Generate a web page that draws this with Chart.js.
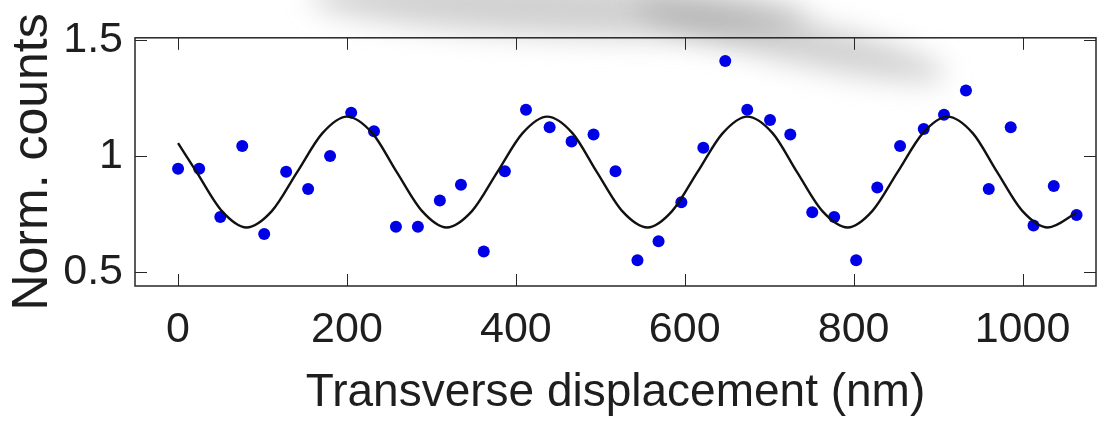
<!DOCTYPE html>
<html>
<head>
<meta charset="utf-8">
<script src="https://cdn.jsdelivr.net/npm/chart.js@4.4.1/dist/chart.umd.min.js"></script>
<style>
  html, body { margin: 0; padding: 0; background: #fff; }
  canvas { display: block; }
</style>
</head>
<body>
<canvas id="fringes" width="1102" height="421"></canvas>
<script>
// measured points
const dataX = [0, 25, 50, 76, 102, 128, 154, 180, 205, 232, 258, 284, 310, 335, 362, 387, 412, 440, 466, 492, 518,
               544, 569, 596, 622, 648, 674, 701, 725, 751, 777, 803, 828, 855, 883, 907, 933, 960, 986, 1013, 1037, 1064];
const dataY = [0.945, 0.945, 0.737, 1.042, 0.664, 0.932, 0.857, 0.999, 1.186, 1.106, 0.695, 0.695, 0.808, 0.876, 0.588,
               0.934, 1.198, 1.123, 1.062, 1.092, 0.934, 0.551, 0.633, 0.80, 1.035, 1.408, 1.198, 1.154, 1.092, 0.757,
               0.737, 0.551, 0.864, 1.042, 1.116, 1.177, 1.281, 0.857, 1.123, 0.70, 0.870, 0.746];

// fit curve
const fitX = [0, 22, 52, 81, 111, 141, 171, 200, 230, 259, 289, 318, 348, 378, 408, 437, 467, 496, 526, 556,
              585, 615, 645, 674, 704, 733, 763, 793, 822, 852, 882, 911, 941, 970, 1000, 1030, 1064];
const fitY = [1.055, 0.93, 0.762, 0.692, 0.762, 0.93, 1.098, 1.169, 1.098, 0.93, 0.762, 0.692, 0.762, 0.93, 1.098,
              1.169, 1.098, 0.93, 0.762, 0.692, 0.762, 0.93, 1.098, 1.169, 1.098, 0.93, 0.762, 0.692, 0.762, 0.93,
              1.098, 1.169, 1.098, 0.93, 0.762, 0.692, 0.755];

const xTicks = [0, 200, 400, 600, 800, 1000];
const yTicks = [0.5, 1, 1.5];

const FONT = '"Liberation Sans", Arial, Helvetica, sans-serif';
const INK = '#1e1e1e';

// grey blur at the top of the scan
const smudge = {
    id: 'smudge',
    beforeDatasetsDraw(chart) {
        const ctx = chart.ctx;
        ctx.save();
        ctx.filter = 'blur(14px)';
        ctx.fillStyle = 'rgba(145,145,145,0.42)';
        ctx.beginPath();
        ctx.ellipse(560, 8, 250, 28, 0.04, 0, Math.PI * 2);
        ctx.fill();
        ctx.beginPath();
        ctx.ellipse(790, 40, 160, 22, 0.22, 0, Math.PI * 2);
        ctx.fill();
        ctx.restore();
    }
};

// box with inward ticks on all four sides
const boxTicks = {
    id: 'boxTicks',
    afterDatasetsDraw(chart) {
        const { ctx, chartArea: a, scales: { x, y } } = chart;
        const len = 12;
        ctx.save();
        ctx.strokeStyle = '#262626';
        ctx.lineWidth = 1.5;
        ctx.strokeRect(a.left, a.top, a.right - a.left, a.bottom - a.top);
        ctx.lineWidth = 1;
        ctx.beginPath();
        xTicks.forEach(v => {
            const px = Math.round(x.getPixelForValue(v)) + 0.5;
            ctx.moveTo(px, a.bottom); ctx.lineTo(px, a.bottom - len);
            ctx.moveTo(px, a.top); ctx.lineTo(px, a.top + len);
        });
        yTicks.forEach(v => {
            const py = Math.round(y.getPixelForValue(v)) + 0.5;
            ctx.moveTo(a.left, py); ctx.lineTo(a.left + len, py);
            ctx.moveTo(a.right, py); ctx.lineTo(a.right - len, py);
        });
        ctx.stroke();
        ctx.restore();
    }
};

document.addEventListener('DOMContentLoaded', () => {
    const CHART = new Chart(document.getElementById('fringes'), {
        type: 'scatter',
        data: {
            datasets: [
                {
                    data: fitX.map((v, i) => ({ x: v, y: fitY[i] })),
                    showLine: true,
                    borderColor: '#111',
                    borderWidth: 2.4,
                    pointRadius: 0,
                    fill: false,
                    cubicInterpolationMode: 'monotone'
                },
                {
                    data: dataX.map((v, i) => ({ x: v, y: dataY[i] })),
                    pointRadius: 6,
                    pointBackgroundColor: '#0000e6',
                    pointBorderWidth: 0
                }
            ]
        },
        options: {
            responsive: false,
            animation: false,
            layout: { padding: { top: 34, right: 3, bottom: 0, left: 0 } },
            plugins: { legend: { display: false }, tooltip: { enabled: false } },
            scales: {
                x: {
                    type: 'linear',
                    min: -51,
                    max: 1087,
                    afterBuildTicks: s => { s.ticks = xTicks.map(v => ({ value: v })); },
                    afterFit: s => { s.height = 135; },
                    grid: { display: false, drawTicks: false },
                    border: { display: false },
                    ticks: { padding: 18, autoSkip: false, maxRotation: 0, color: INK,
                             callback: v => String(v), font: { family: FONT, size: 43 } },
                    title: { display: true, text: 'Transverse displacement (nm)', color: INK,
                             padding: 0, font: { family: FONT, size: 46 } }
                },
                y: {
                    type: 'linear',
                    min: 0.44,
                    max: 1.508,
                    afterBuildTicks: s => { s.ticks = yTicks.map(v => ({ value: v })); },
                    afterFit: s => { s.width = 135; },
                    grid: { display: false, drawTicks: false },
                    border: { display: false },
                    ticks: { padding: 12, color: INK, callback: v => String(v),
                             font: { family: FONT, size: 43 } },
                    title: { display: true, text: 'Norm. counts', color: INK,
                             padding: { top: 3, bottom: 0 }, font: { family: FONT, size: 50 } }
                }
            }
        },
        plugins: [smudge, boxTicks]
    });
});
</script>
</body>
</html>
